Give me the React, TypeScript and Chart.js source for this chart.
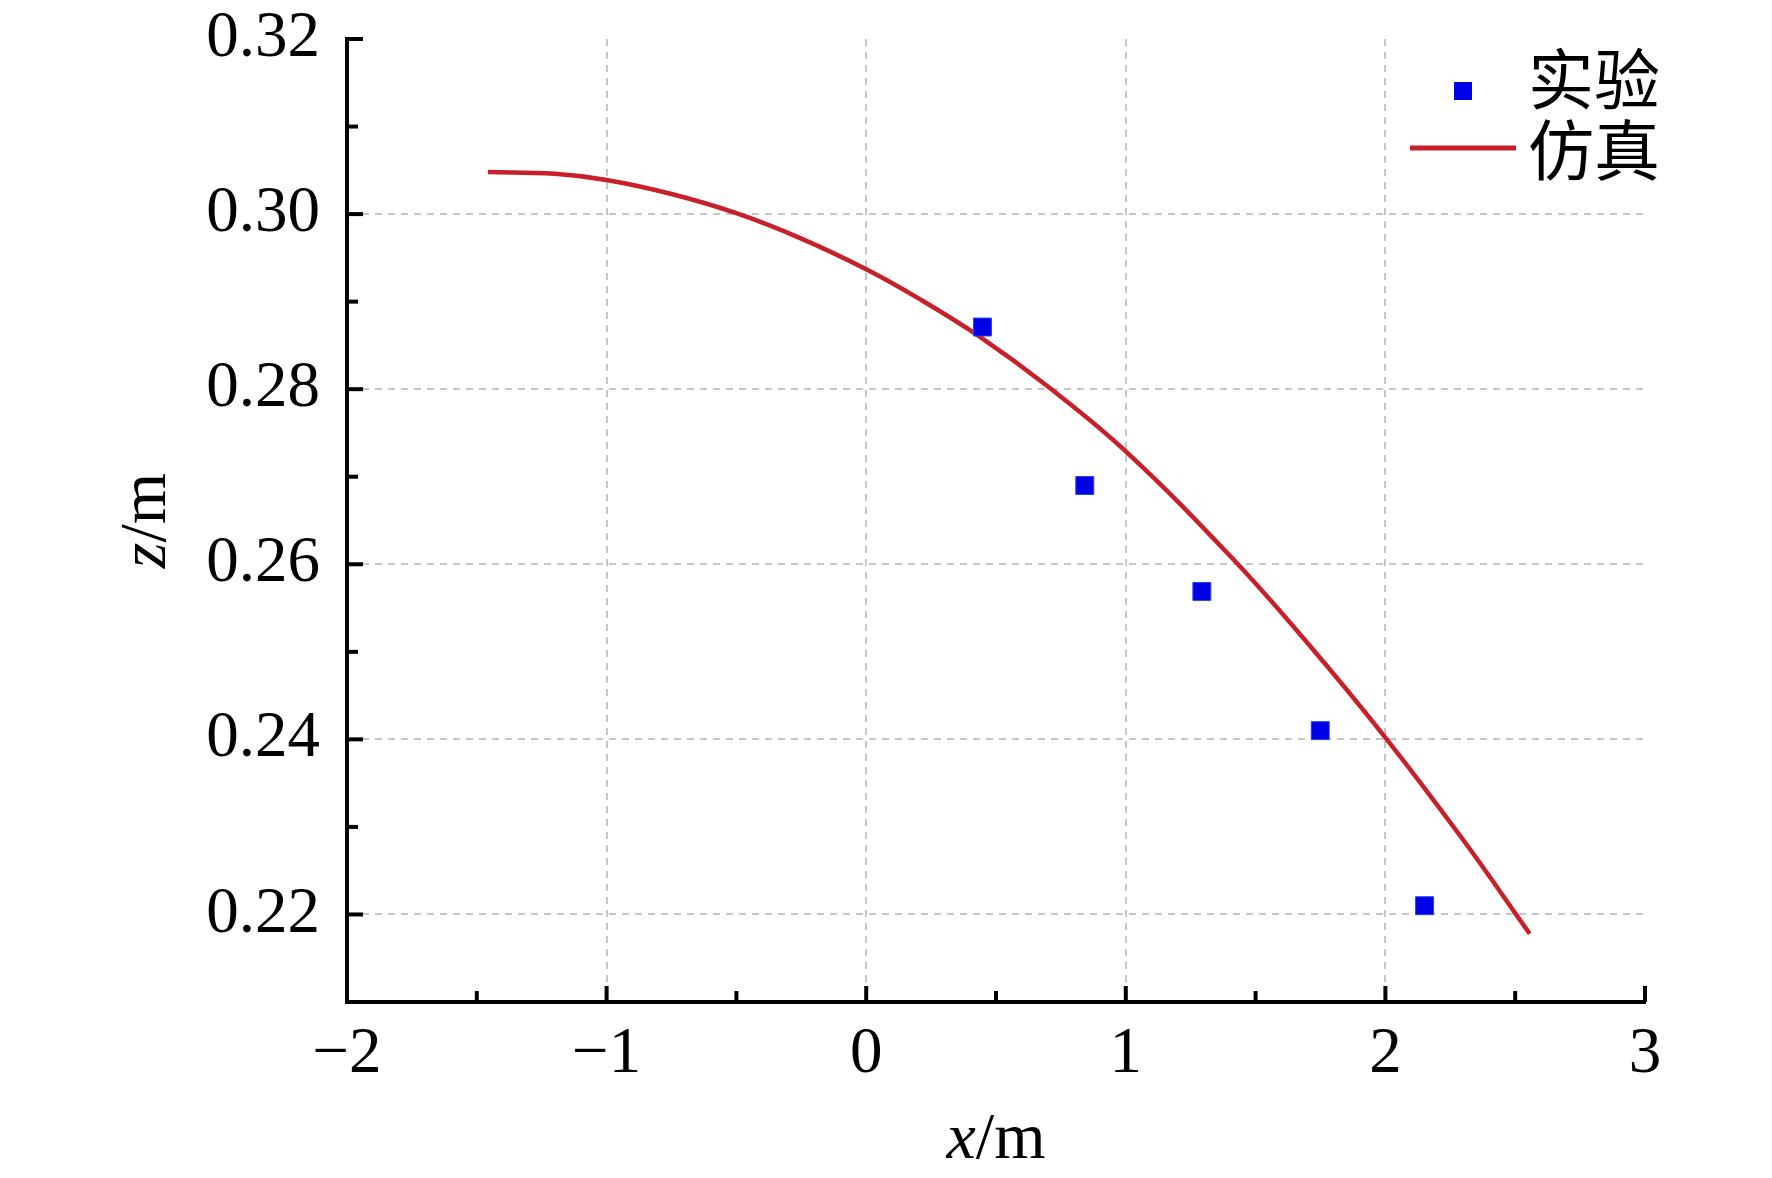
import React, { useEffect, useRef } from 'react';
import { Chart, registerables } from 'chart.js';

Chart.register(...registerables);

// ---- data ----
const simX = [-1.457, -1.2, -1.0, -0.75, -0.5, -0.25, 0.0, 0.2, 0.437, 0.7, 1.0, 1.413, 1.7, 2.0, 2.3, 2.556];
const simZ = [0.3048, 0.3046, 0.3039, 0.3023, 0.3001, 0.2972, 0.2937, 0.2904, 0.286, 0.2803, 0.2729, 0.2606, 0.251, 0.2402, 0.2285, 0.2178];
const expX = [0.448, 0.842, 1.293, 1.749, 2.151];
const expZ = [0.2871, 0.269, 0.2569, 0.241, 0.221];
const seriesLabels = ['实验', '仿真'];
const xRange = [-2, 3];
const yRange = [0.21, 0.32];
const xTitle = ['x', '/m'];
const yTitle = ['z', '/m'];

const SERIF = '"Liberation Serif", "Times New Roman", serif';
const CJK = '"Noto Sans CJK SC", "Noto Sans CJK JP", sans-serif';
const RED = '#c8202a';
const BLUE = '#0000e6';
const GRID = '#c6c6c6';

const isMajorY = (v: number) => Math.round(v * 100) % 2 === 0;
const isMajorX = (v: number) => Math.abs(v - Math.round(v)) < 1e-6;

const deco = {
  id: 'deco',
  afterDraw(chart: any) {
    const { ctx, chartArea: a, scales } = chart;
    const x = scales.x;
    const y = scales.y;
    ctx.save();
    // inward ticks
    ctx.strokeStyle = '#000';
    ctx.lineWidth = 4;
    ctx.lineCap = 'butt';
    y.ticks.forEach((t: any) => {
      const v = t.value;
      if (v <= y.min + 1e-9) return;
      const p = y.getPixelForValue(v);
      const len = isMajorY(v) ? 16 : 11;
      ctx.beginPath();
      ctx.moveTo(a.left, p);
      ctx.lineTo(a.left + len, p);
      ctx.stroke();
    });
    x.ticks.forEach((t: any) => {
      const v = t.value;
      if (v <= x.min + 1e-9) return;
      const p = x.getPixelForValue(v);
      const len = isMajorX(v) ? 16 : 11;
      ctx.beginPath();
      ctx.moveTo(p, a.bottom);
      ctx.lineTo(p, a.bottom - len);
      ctx.stroke();
    });

    // axis titles
    ctx.fillStyle = '#000';
    ctx.textBaseline = 'alphabetic';
    const ital = `italic 66px ${SERIF}`;
    const rom = `66px ${SERIF}`;
    ctx.font = ital;
    const w1 = ctx.measureText(xTitle[0]).width;
    ctx.font = rom;
    const w2 = ctx.measureText(xTitle[1]).width;
    const cx = (a.left + a.right) / 2;
    const sx = cx - (w1 + w2) / 2;
    ctx.textAlign = 'left';
    ctx.font = ital;
    ctx.fillText(xTitle[0], sx, 1158);
    ctx.font = rom;
    ctx.fillText(xTitle[1], sx + w1, 1158);

    ctx.font = ital;
    const v1 = ctx.measureText(yTitle[0]).width;
    ctx.font = rom;
    const v2 = ctx.measureText(yTitle[1]).width;
    const cy = (a.top + a.bottom) / 2;
    ctx.save();
    ctx.translate(165, cy);
    ctx.rotate(-Math.PI / 2);
    const sy = -(v1 + v2) / 2;
    ctx.font = ital;
    ctx.fillText(yTitle[0], sy, 0);
    ctx.font = rom;
    ctx.fillText(yTitle[1], sy + v1, 0);
    ctx.restore();

    // legend
    const ds = chart.data.datasets;
    ctx.fillStyle = ds[0].backgroundColor;
    ctx.fillRect(1463 - 9, 91 - 9, 18, 18);
    ctx.strokeStyle = ds[1].borderColor;
    ctx.lineWidth = 5;
    ctx.beginPath();
    ctx.moveTo(1410, 148);
    ctx.lineTo(1516, 148);
    ctx.stroke();
    ctx.fillStyle = '#000';
    ctx.font = `66px ${CJK}`;
    ctx.textBaseline = 'middle';
    ctx.textAlign = 'left';
    ctx.fillText(ds[0].label, 1528, 79);
    ctx.fillText(ds[1].label, 1528, 150);
    ctx.restore();
  },
};

export default function App() {
  const ref = useRef<HTMLCanvasElement | null>(null);
  useEffect(() => {
    document.body.style.margin = '0';
    document.body.style.overflow = 'hidden';
    const canvas = ref.current;
    if (!canvas) return;
    const chart = new Chart(canvas, {
      type: 'scatter',
      data: {
        datasets: [
          {
            label: seriesLabels[0],
            data: expX.map((v, i) => ({ x: v, y: expZ[i] })),
            backgroundColor: BLUE,
            borderColor: '#3040f0',
            borderWidth: 1,
            pointStyle: 'rect',
            pointRadius: 12.7,
            pointHoverRadius: 12.7,
            showLine: false,
          },
          {
            label: seriesLabels[1],
            data: simX.map((v, i) => ({ x: v, y: simZ[i] })),
            borderColor: RED,
            backgroundColor: RED,
            borderWidth: 4.5,
            pointRadius: 0,
            showLine: true,
            tension: 0.4,
          },
        ],
      },
      options: {
        animation: false,
        responsive: true,
        maintainAspectRatio: false,
        events: [],
        layout: { padding: { left: 0, right: 127, top: 39, bottom: 0 } },
        plugins: { legend: { display: false }, tooltip: { enabled: false } },
        scales: {
          x: {
            type: 'linear',
            min: xRange[0],
            max: xRange[1],
            afterFit: (s: any) => {
              s.height = 176;
              s.paddingLeft = 0;
              s.paddingRight = 0;
            },
            ticks: {
              stepSize: 0.5,
              autoSkip: false,
              maxRotation: 0,
              padding: 14,
              color: '#000',
              font: { family: SERIF, size: 65 },
              callback: (v: any) => {
                const n = Number(v);
                if (!isMajorX(n)) return '';
                const r = Math.round(n);
                return r < 0 ? '\u2212' + Math.abs(r) : String(r);
              },
            },
            grid: {
              drawTicks: false,
              lineWidth: 2,
              color: (c: any) => {
                const v = c.tick ? c.tick.value : 0;
                if (!isMajorX(v) || v <= xRange[0] + 1e-6 || v >= xRange[1] - 1e-6) return 'rgba(0,0,0,0)';
                return GRID;
              },
            },
            border: { display: true, color: '#000', width: 4, dash: [7, 6] },
          },
          y: {
            type: 'linear',
            min: yRange[0],
            max: yRange[1],
            afterFit: (s: any) => {
              s.width = 347;
              s.paddingTop = 0;
              s.paddingBottom = 0;
            },
            ticks: {
              stepSize: 0.01,
              autoSkip: false,
              padding: 27,
              color: '#000',
              font: { family: SERIF, size: 65 },
              callback: (v: any) => {
                const n = Number(v);
                if (!isMajorY(n)) return '';
                return n.toFixed(2);
              },
            },
            grid: {
              drawTicks: false,
              lineWidth: 2,
              color: (c: any) => {
                const v = c.tick ? c.tick.value : 0;
                if (!isMajorY(v) || v <= yRange[0] + 1e-6 || v >= yRange[1] - 1e-6) return 'rgba(0,0,0,0)';
                return GRID;
              },
            },
            border: { display: true, color: '#000', width: 4, dash: [7, 6] },
          },
        },
      },
      plugins: [deco],
    } as any);
    return () => chart.destroy();
  }, []);
  return (
    <div style={{ width: '1772px', height: '1178px', position: 'relative', background: '#fff' }}>
      <canvas ref={ref} />
    </div>
  );
}
